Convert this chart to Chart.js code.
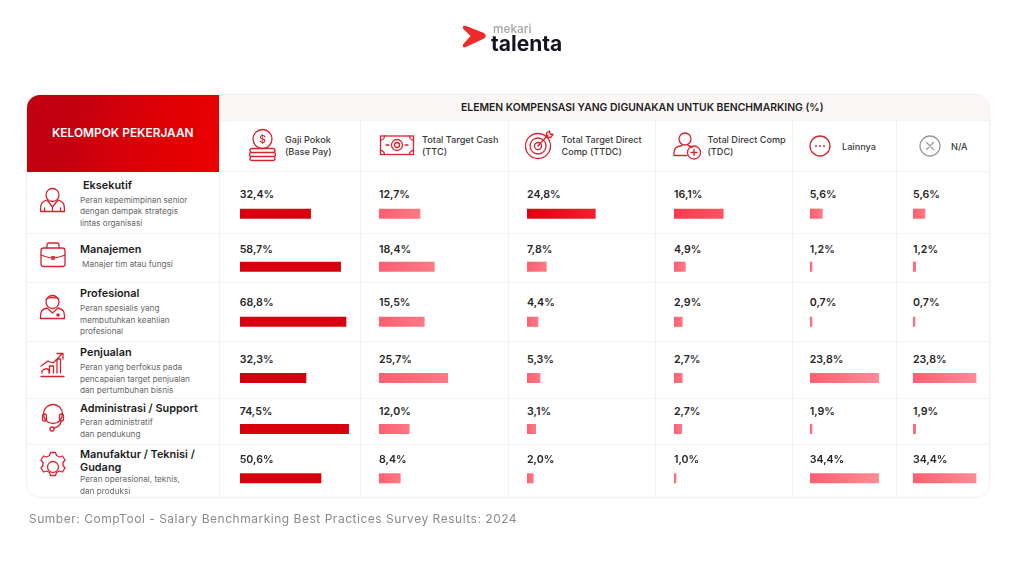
<!DOCTYPE html>
<html lang="id">
<head>
<meta charset="utf-8">
<title>Elemen Kompensasi</title>
<script src="https://cdn.jsdelivr.net/npm/chart.js@4"></script>
<style>
html,body{margin:0;padding:0;background:#fff;width:1024px;height:576px;overflow:hidden;font-family:Inter,"Noto Sans",sans-serif}
#stage{position:relative;width:1024px;height:576px;filter:blur(.3px)}
#card{position:absolute;left:26px;top:94px;width:964px;height:404px;border:1px solid #f0f0f0;border-radius:14px;box-sizing:border-box;background:#fff;overflow:hidden}
#band{position:absolute;left:193px;top:0;right:0;height:26px;background:#faf7f6}
#redbox{position:absolute;left:0;top:0;width:193px;height:77px;background:linear-gradient(105deg,#c00010 0%,#c4000f 25%,#dc0006 60%,#ea0000 100%)}
.ln{position:absolute;background:#f3f3f3}
.t{position:absolute;white-space:nowrap;transform:translateY(-50%);line-height:1}
.val{font-size:10.6px;font-weight:600;color:#262626}
.name{font-size:10.9px;font-weight:600;color:#1c1c1c}
.desc{font-size:8.2px;font-weight:400;color:#666}
.hd{font-size:9.15px;font-weight:500;color:#3a3a3a}
canvas{position:absolute}
svg{position:absolute;left:0;top:0}
</style>
</head>
<body>
<div id="stage">
<div id="card"><div id="band"></div><div id="redbox"></div></div>
</div>
<script>
// ---- data ----
const rowNames = ["Eksekutif","Manajemen","Profesional","Penjualan","Administrasi / Support","Manufaktur / Teknisi / Gudang"];
const columnNames = ["Gaji Pokok (Base Pay)","Total Target Cash (TTC)","Total Target Direct Comp (TTDC)","Total Direct Comp (TDC)","Lainnya","N/A"];

// percentages printed in the cells
const baseValues   = [32.4,58.7,68.8,32.3,74.5,50.6];
const ttcValues    = [12.7,18.4,15.5,25.7,12.0,8.4];
const ttdcValues   = [24.8,7.8,4.4,5.3,3.1,2.0];
const tdcValues    = [16.1,4.9,2.9,2.7,2.7,1.0];
const otherValues  = [5.6,1.2,0.7,23.8,1.9,34.4];
const naValues     = [5.6,1.2,0.7,23.8,1.9,34.4];

// The reference's bars are not proportional to the printed percentages,
// so their drawn extents are read separately off the picture.
const baseExtents  = [70.6,100.6,106,66,108.6,81];
const ttcExtents   = [41,55.3,45.3,68.7,30.3,21.3];
const ttdcExtents  = [68.3,19.3,11,13,8.7,6.3];
const tdcExtents   = [49.3,11.3,8.3,8.3,7.7,2];
const otherExtents = [12.3,2,2,68.7,2,68.7];
const naExtents    = [12,2.7,2,63,2.7,63];

const allValues  = [baseValues,ttcValues,ttdcValues,tdcValues,otherValues,naValues];
const allExtents = [baseExtents,ttcExtents,ttdcExtents,tdcExtents,otherExtents,naExtents];

// ---- layout ----
const colLines = [219,359.5,507.5,655,792,896];
const rowLines = [171,233,281.5,340.5,398,443.5];
const barLeft  = [239.7,379,527,674,809.7,913];
const barRoom  = [115,75,75,110,75,70];
const bodyTop = 172, bodyH = 326;
const barCenter = [213.7,266.7,321.8,378,429,478.3];
const valY = [194.8,250.1,303.1,359.8,412.1,459.8];
const barH = 9.4;

const stage = document.getElementById('stage');
function addText(txt,x,y,cls,extra){
  const d=document.createElement('div');d.className='t '+cls;d.textContent=txt;
  d.style.left=x+'px';d.style.top=y+'px';
  if(extra)Object.assign(d.style,extra);
  stage.appendChild(d);return d;
}
function addLine(x,y,w,h){
  const d=document.createElement('div');d.className='ln';
  d.style.left=x+'px';d.style.top=y+'px';d.style.width=w+'px';d.style.height=h+'px';
  stage.appendChild(d);
}
rowLines.forEach((y,i)=>addLine(i===0?219:27,y,i===0?770:962,1));
addLine(219,120,770,1);
colLines.forEach((x,i)=>addLine(x,i===0?95:121,1,i===0?402:376));

// header texts
addText("ELEMEN KOMPENSASI YANG DIGUNAKAN UNTUK BENCHMARKING (%)",461,107.5,'',{fontSize:'10.4px',fontWeight:'600',color:'#1f1f1f'});
addText("KELOMPOK PEKERJAAN",52,133,'',{fontSize:'11.9px',fontWeight:'600',color:'#fff'});
addText("Gaji Pokok",285,139.5,'hd');addText("(Base Pay)",285,152,'hd');
addText("Total Target Cash",422,139.5,'hd');addText("(TTC)",422,152,'hd');
addText("Total Target Direct",561.5,139.5,'hd');addText("Comp (TTDC)",561.5,152,'hd');
addText("Total Direct Comp",707.5,139.5,'hd');addText("(TDC)",707.5,152,'hd');
addText("Lainnya",842,146.5,'hd');addText("N/A",951,146.5,'hd');

// row labels
const rowText=[
 {x:83,y:184.8,t:["Eksekutif"],dx:80,dy:[199.7,211,223],d:["Peran kepemimpinan senior","dengan dampak strategis","lintas organisasi"]},
 {x:80,y:248.8,t:["Manajemen"],dx:82,dy:[264],d:["Manajer tim atau fungsi"]},
 {x:80,y:292.8,t:["Profesional"],dx:80,dy:[308,319.5,331],d:["Peran spesialis yang","membutuhkan keahlian","profesional"]},
 {x:80,y:351.8,t:["Penjualan"],dx:80,dy:[366.7,378.5,390],d:["Peran yang berfokus pada","pencapaian target penjualan","dan pertumbuhan bisnis"]},
 {x:80,y:407.8,t:["Administrasi / Support"],dx:80,dy:[422,434],d:["Peran administratif","dan pendukung"]},
 {x:80,y:453.8,t:["Manufaktur / Teknisi /","Gudang"],dx:80,dy:[479,491],d:["Peran operasional, teknis,","dan produksi"]}
];
rowText.forEach(r=>{
  r.t.forEach((s,i)=>addText(s,r.x,r.y+i*13.5,'name'));
  r.d.forEach((s,i)=>addText(s,r.dx,r.dy[i],'desc'));
});

// value labels
allValues.forEach((vals,c)=>vals.forEach((v,r)=>
  addText(v.toFixed(1).replace('.',',')+'%',barLeft[c],valY[r],'val')));

addText("Sumber: CompTool - Salary Benchmarking Best Practices Survey Results: 2024",29,519,'',{fontSize:'12px',color:'#8a8a8a',letterSpacing:'.52px'});
addText("mekari",493,29.5,'',{fontSize:'11.8px',fontWeight:'500',color:'#a3a3a3'});
addText("talenta",491,43,'',{fontSize:'21px',fontWeight:'700',color:'#15151f'});

// ---- chart scale with the table's uneven row positions ----
class RowScale extends Chart.CategoryScale{
  getPixelForValue(value){ return barCenter[value]-bodyTop; }
}
RowScale.id='rowScale';
Chart.register(RowScale);

function fillFor(c){
  return function(ctx){
    const r=ctx.dataIndex, len=ctx.dataset.data[r], g=ctx.chart.ctx.createLinearGradient(0,0,Math.max(len,1),0);
    if(c===0){return '#d7000f';}
    if(c===2&&r===0){g.addColorStop(0,'#df000f');g.addColorStop(1,'#f0202e');return g;}
    if(c===3&&r===0){g.addColorStop(0,'#f93a50');g.addColorStop(1,'#ff5566');return g;}
    if(len>60&&c>=4){g.addColorStop(0,'#ff5f70');g.addColorStop(1,'#ff8c96');return g;}
    g.addColorStop(0,'#ff5f70');g.addColorStop(1,'#ff7985');return g;
  };
}
allExtents.forEach((ext,c)=>{
  const cv=document.createElement('canvas');
  cv.style.left=barLeft[c]+'px';cv.style.top=bodyTop+'px';
  cv.style.width=barRoom[c]+'px';cv.style.height=bodyH+'px';
  cv.width=barRoom[c];cv.height=bodyH;
  stage.appendChild(cv);
  new Chart(cv,{
    type:'bar',
    data:{labels:rowNames,datasets:[{label:columnNames[c],data:ext,backgroundColor:fillFor(c),barThickness:barH,borderWidth:0}]},
    options:{
      indexAxis:'y',responsive:false,animation:false,
      layout:{padding:0},
      plugins:{legend:{display:false},tooltip:{enabled:false}},
      scales:{
        x:{type:'linear',min:0,max:barRoom[c],display:false},
        y:{type:'rowScale',display:false}
      }
    }
  });
});

// ---- icons and logo ----
const R='#d8232f';
const s=(d)=>`<path d="${d}" fill="none" stroke="${R}" stroke-width="1.3" stroke-linecap="round" stroke-linejoin="round"/>`;
const c=(x,y,r,col)=>`<circle cx="${x}" cy="${y}" r="${r}" fill="none" stroke="${col||R}" stroke-width="1.3"/>`;
const svg=`<svg width="1024" height="576" viewBox="0 0 1024 576" xmlns="http://www.w3.org/2000/svg">
<path d="M463 28.5Q462 25 466 26L484 33Q487.500 36 484 38.500L466 47Q462 48.500 463 44.500L470.500 36Z" fill="#ee2a2a"/>
<!-- coins -->
${c(262.500,139,9.500)}<text x="262.500" y="143" font-family="Inter" font-size="11" font-weight="500" fill="${R}" text-anchor="middle">$</text>
${s("M252 148.500h21a2 2 0 0 1 0 4h-21a2 2 0 0 1 0-4M251.500 152.500h22a2 2 0 0 1 0 4h-22a2 2 0 0 1 0-4M252 156.500h21a2 2 0 0 1 0 4h-21a2 2 0 0 1 0-4")}
<!-- banknote -->
<rect x="380.500" y="136" width="33" height="18.500" fill="none" stroke="${R}" stroke-width="1.3"/>
${c(397,145,5.500)}${c(397,145,2.500)}${s("M380.500 140a4 4 0 0 0 4-4M413.500 140a4 4 0 0 1-4-4M380.500 150.500a4 4 0 0 1 4 4M413.500 150.500a4 4 0 0 0-4 4M386 145h3M405 145h3")}
<!-- target -->
${c(538,146,12.500)}${c(538,146,8)}${c(538,146,3.500)}${s("M538 146L548 135M546 137l.5-4 3-2 .5 3 3 .5-2.500 3z")}
<!-- person plus -->
${c(685,139,6)}${s("M674 155.500v-3c0-4.500 4-6.500 8-7M688 145.500c1.500.3 3 1 4 2M674 155.500h13")}
${c(694,152.500,6.500)}${s("M694 149.500v6M691 152.500h6")}
<!-- dots -->
${c(820,146,10)}<circle cx="816" cy="146" r="1" fill="${R}"/><circle cx="820" cy="146" r="1" fill="${R}"/><circle cx="824" cy="146" r="1" fill="${R}"/>
<!-- x -->
${c(930,146,10,'#9a9a9a')}<path d="M926.500 142.500l7 7M933.500 142.500l-7 7" stroke="#9a9a9a" stroke-width="1.300" stroke-linecap="round"/>
<!-- executive -->
${c(52.500,195,6.500)}${s("M47 200c-6 2-6.500 4-6.500 11.500h24c0-7.500-.5-9.500-6.500-11.500M47 200l5.500 7 5.500-7M52.500 207v4.500M44.500 208v3.500M60.500 208v3.500")}
<!-- briefcase -->
<rect x="41" y="248" width="24" height="18.500" rx="2.500" fill="none" stroke="${R}" stroke-width="1.300"/>${s("M47 248v-3a2 2 0 0 1 2-2h8a2 2 0 0 1 2 2v3M41 255c5 2 9 3 12 3s7-1 12-3")}${c(53,258,1.500)}
<!-- professional -->
${c(52.500,302,6.500)}${s("M47 308c-6 1.500-6.500 4-6.500 10.500h24c0-6.500-.5-9-6.500-10.500M47 308l5.500 5 5.500-5M46 299c3-2 10-2 13 0")}<circle cx="58" cy="315" r="1.800" fill="${R}"/>
<!-- sales -->
${s("M41 376.500h23M42 373v-2c2-3 7-3 7 0v2M49.500 373v-7h4v7M57 373v-14h3.500v14M41 366l7-5 5 2 9-9M57 353.500h6v5.500")}
<!-- support -->
${c(53,414,9.500)}<rect x="42.500" y="414" width="4" height="7" rx="2" fill="none" stroke="${R}" stroke-width="1.300"/><rect x="59.500" y="414" width="4" height="7" rx="2" fill="none" stroke="${R}" stroke-width="1.300"/>${s("M61 421c0 4-3 6-7 7")}${c(52,429,2)}
<!-- gear -->
${c(53,467,5.500)}${s("M49.500 455.500l1-3h5l1 3 3 1.500 3-1 2.500 4-2 2.500v3l2 2.500-2.500 4-3-1-3 1.500-1 3h-5l-1-3-3-1.500-3 1-2.500-4 2-2.500v-3l-2-2.500 2.500-4 3 1z")}
</svg>`;
stage.insertAdjacentHTML('beforeend',svg);
</script>
</body>
</html>
